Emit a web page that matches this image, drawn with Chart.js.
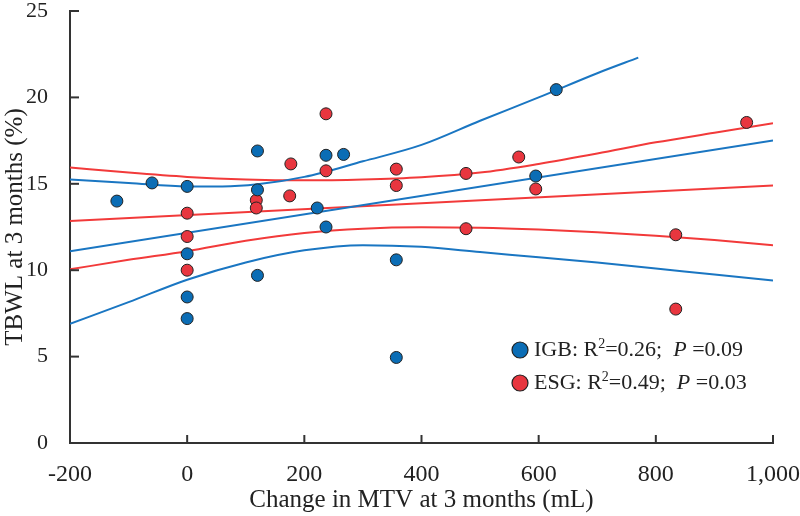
<!DOCTYPE html>
<html>
<head>
<meta charset="utf-8">
<script src="https://cdn.jsdelivr.net/npm/chart.js@4/dist/chart.umd.min.js"></script>
<style>
  html, body { margin: 0; padding: 0; background: #fff; }
  #wrap { width: 800px; height: 516px; }
</style>
</head>
<body>
<div id="wrap"><canvas id="myChart"></canvas></div>
<script>
// scatter points
const igbX = [-120, -60, 0, 0, 0, 0, 120, 120, 120, 222, 237, 237, 267, 357, 357, 595, 630];
const igbY = [14.0, 15.05, 14.85, 10.95, 8.45, 7.2, 16.9, 14.65, 9.7, 13.6, 16.65, 12.5, 16.7, 10.6, 4.95, 15.45, 20.45];

const esgX = [0, 0, 0, 118, 118, 175, 177, 237, 237, 357, 357, 476, 476, 566, 595, 834, 834, 955];
const esgY = [13.3, 11.95, 10.0, 14.05, 13.6, 14.3, 16.15, 19.05, 15.75, 15.85, 14.9, 15.6, 12.4, 16.55, 14.7, 12.05, 7.75, 18.55];

// regression lines and 95% bands
const fitX = [-200, 1000];
const igbFit = [11.1, 17.5];
const esgFit = [12.85, 14.9];

const bandX = [-200, -100, 0, 100, 200, 300, 400, 500, 600, 700, 800, 900, 1000];
const igbUpperX = [-200, -100, 0, 60, 120, 200, 300, 400, 500, 600, 700, 770];
const igbUpper = [15.25, 15.05, 14.85, 14.85, 14.97, 15.4, 16.3, 17.25, 18.65, 20.0, 21.4, 22.3];
const igbLower = [6.9, 8.15, 9.45, 10.45, 11.15, 11.45, 11.35, 11.05, 10.75, 10.45, 10.1, 9.75, 9.4];
const esgUpper = [15.95, 15.65, 15.4, 15.25, 15.2, 15.25, 15.38, 15.65, 16.15, 16.75, 17.4, 17.95, 18.5];
const esgLower = [10.05, 10.6, 11.1, 11.7, 12.15, 12.4, 12.48, 12.45, 12.35, 12.2, 12.0, 11.75, 11.45];

const xTicks = [-200, 0, 200, 400, 600, 800, 1000];
const yTicks = [0, 5, 10, 15, 20, 25];

const legendRows = [
  { name: "IGB", r2: "0.26", p: "0.09" },
  { name: "ESG", r2: "0.49", p: "0.03" },
];

const BLUE = "#0b6db5";
const RED = "#e8363f";
const BLUE_LINE = "#1a76c2";
const RED_LINE = "#f23a3a";
const AXIS = "#333333";
const SERIF = "'Liberation Serif', 'Times New Roman', serif";

const pts = (xs, ys) => xs.map((x, i) => ({ x: x, y: ys[i] }));

const lineSet = (data, color, smooth) => ({
  type: "line",
  data: data,
  borderColor: color,
  borderWidth: 2,
  pointRadius: 0,
  fill: false,
  tension: smooth ? 0.4 : 0,
  cubicInterpolationMode: smooth ? "monotone" : "default",
  order: 5,
});

// inward tick marks
const innerTicks = {
  id: "innerTicks",
  afterDraw(chart) {
    const ctx = chart.ctx;
    const xs = chart.scales.x;
    const ys = chart.scales.y;
    const area = chart.chartArea;
    ctx.save();
    ctx.strokeStyle = AXIS;
    ctx.lineWidth = 2;
    xTicks.forEach((v) => {
      const px = xs.getPixelForValue(v);
      ctx.beginPath();
      ctx.moveTo(px, area.bottom);
      ctx.lineTo(px, area.bottom - 8);
      ctx.stroke();
    });
    yTicks.forEach((v) => {
      const py = ys.getPixelForValue(v);
      ctx.beginPath();
      ctx.moveTo(area.left, py);
      ctx.lineTo(area.left + 9, py);
      ctx.stroke();
    });
    ctx.restore();
  },
};

// legend with superscript and italic P
const statLegend = {
  id: "statLegend",
  afterDraw(chart) {
    const ctx = chart.ctx;
    const area = chart.chartArea;
    const colors = [BLUE, RED];
    let x0 = area.right - 253;
    let y0 = area.bottom - 93;
    ctx.save();
    ctx.textBaseline = "middle";
    legendRows.forEach((row, i) => {
      const y = y0 + i * 33;
      ctx.beginPath();
      ctx.arc(x0, y, 8, 0, Math.PI * 2);
      ctx.fillStyle = colors[i];
      ctx.fill();
      ctx.lineWidth = 1.2;
      ctx.strokeStyle = "#222";
      ctx.stroke();

      let x = x0 + 14;
      const put = (txt, font, dy) => {
        ctx.font = font;
        ctx.fillStyle = "#222";
        ctx.fillText(txt, x, y + (dy || 0));
        x += ctx.measureText(txt).width;
      };
      put(row.name + ": R", "22px " + SERIF);
      put("2", "14px " + SERIF, -6);
      put("=" + row.r2 + ";  ", "22px " + SERIF);
      put("P", "italic 22px " + SERIF);
      put(" =" + row.p, "22px " + SERIF);
    });
    ctx.restore();
  },
};

const ctx = document.getElementById("myChart").getContext("2d");
const myChart = new Chart(ctx, {
  type: "scatter",
  data: {
    datasets: [
      {
        label: "IGB",
        data: pts(igbX, igbY),
        backgroundColor: BLUE,
        borderColor: "#222",
        borderWidth: 1,
        pointRadius: 6,
        order: 1,
      },
      {
        label: "ESG",
        data: pts(esgX, esgY),
        backgroundColor: RED,
        borderColor: "#222",
        borderWidth: 1,
        pointRadius: 6,
        order: 2,
      },
      lineSet(pts(fitX, igbFit), BLUE_LINE, false),
      lineSet(pts(igbUpperX, igbUpper), BLUE_LINE, true),
      lineSet(pts(bandX, igbLower), BLUE_LINE, true),
      lineSet(pts(fitX, esgFit), RED_LINE, false),
      lineSet(pts(bandX, esgUpper), RED_LINE, true),
      lineSet(pts(bandX, esgLower), RED_LINE, true),
    ],
  },
  options: {
    responsive: true,
    maintainAspectRatio: false,
    animation: false,
    layout: { padding: { top: 0, right: 0, left: 0, bottom: 1 } },
    plugins: {
      legend: { display: false },
      tooltip: { enabled: false },
    },
    scales: {
      x: {
        type: "linear",
        min: -200,
        max: 1000,
        afterBuildTicks: (scale) => {
          scale.ticks = xTicks.map((v) => ({ value: v }));
        },
        afterFit: (scale) => {
          scale.height = 72;
          scale.paddingRight = 27;
        },
        grid: { display: false },
        border: { display: true, color: AXIS, width: 2 },
        ticks: {
          color: "#222",
          padding: 9,
          maxRotation: 0,
          font: { family: SERIF, size: 24 },
        },
        title: {
          display: true,
          text: "Change in MTV at 3 months (mL)",
          color: "#222",
          padding: { top: 0, bottom: 0 },
          font: { family: SERIF, size: 25 },
        },
      },
      y: {
        type: "linear",
        min: 0,
        max: 25,
        afterBuildTicks: (scale) => {
          scale.ticks = yTicks.map((v) => ({ value: v }));
        },
        afterFit: (scale) => {
          scale.width = 70;
          scale.paddingTop = 11;
        },
        grid: { display: false },
        border: { display: true, color: AXIS, width: 2 },
        ticks: {
          color: "#222",
          padding: 14,
          font: { family: SERIF, size: 22 },
        },
        title: {
          display: true,
          text: "TBWL at 3 months (%)",
          color: "#222",
          padding: { top: 0, bottom: 0 },
          font: { family: SERIF, size: 25 },
        },
      },
    },
  },
  plugins: [innerTicks, statLegend],
});
</script>
</body>
</html>
